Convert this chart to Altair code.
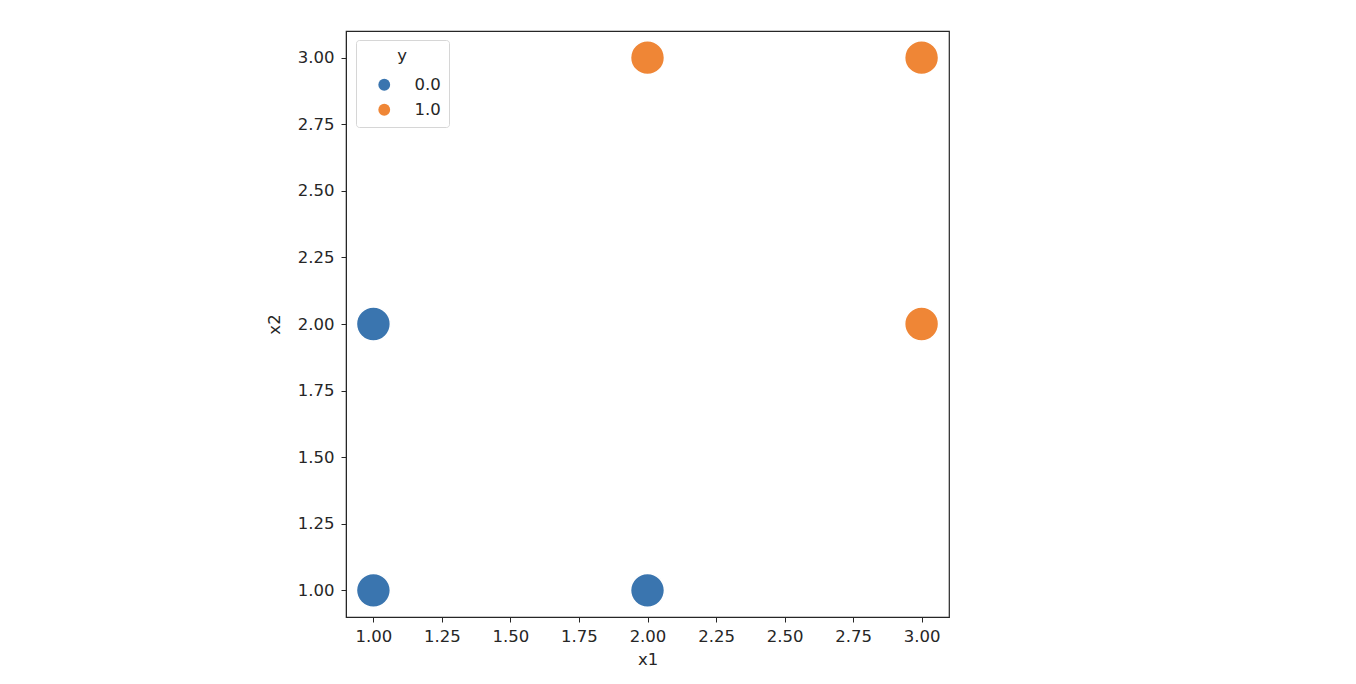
import altair as alt
import pandas as pd

x1 = [1.0, 1.0, 2.0, 2.0, 3.0, 3.0]
x2 = [1.0, 2.0, 1.0, 3.0, 2.0, 3.0]
y = ["0.0", "0.0", "0.0", "1.0", "1.0", "1.0"]
ticks = [1.0, 1.25, 1.5, 1.75, 2.0, 2.25, 2.5, 2.75, 3.0]

df = pd.DataFrame({"x1": x1, "x2": x2, "y": y})

FONT = "DejaVu Sans"
FS = 16.5
TXT = "#262626"

def ax(title, lpad, tpad):
    return alt.Axis(values=ticks, format=".2f", grid=False, title=title,
                    titleFontWeight="normal", titleFontSize=FS, labelFontSize=FS,
                    titleColor=TXT, labelColor=TXT, tickColor=TXT,
                    domainColor=TXT, tickSize=5, labelPadding=lpad, titlePadding=tpad,
                    labelFont=FONT, titleFont=FONT)

chart = alt.Chart(df).mark_circle(
    size=1150, opacity=1, stroke="white", strokeWidth=1.5
).encode(
    x=alt.X("x1:Q", scale=alt.Scale(domain=[0.9, 3.1], nice=False, zero=False),
            axis=ax("x1", 6, 7)),
    y=alt.Y("x2:Q", scale=alt.Scale(domain=[0.9, 3.1], nice=False, zero=False),
            axis=ax("x2", 7, 15)),
    color=alt.Color("y:N", scale=alt.Scale(domain=["0.0", "1.0"], range=["#3a75af", "#ef8636"]),
                    legend=alt.Legend(orient="none", legendX=10, legendY=9, title="y",
                                      titleAnchor="middle", titleFontWeight="normal",
                                      titleFontSize=FS, labelFontSize=FS, symbolSize=140,
                                      titleFont=FONT, labelFont=FONT, titleColor=TXT,
                                      labelColor=TXT, strokeColor="#d6d6d6",
                                      cornerRadius=3, padding=8, fillColor="white",
                                      symbolOffset=12, labelOffset=22, rowPadding=8,
                                      symbolOpacity=1, symbolStrokeWidth=0,
                                      titlePadding=12)),
).properties(
    width=603, height=586,
    padding={"left": 338, "top": 23, "right": 399, "bottom": 60},
    autosize=alt.AutoSizeParams(type="none"),
).configure_view(
    stroke=TXT, strokeWidth=1.2
)

chart.save("out.html", embed_options={"renderer": "svg", "actions": False})
